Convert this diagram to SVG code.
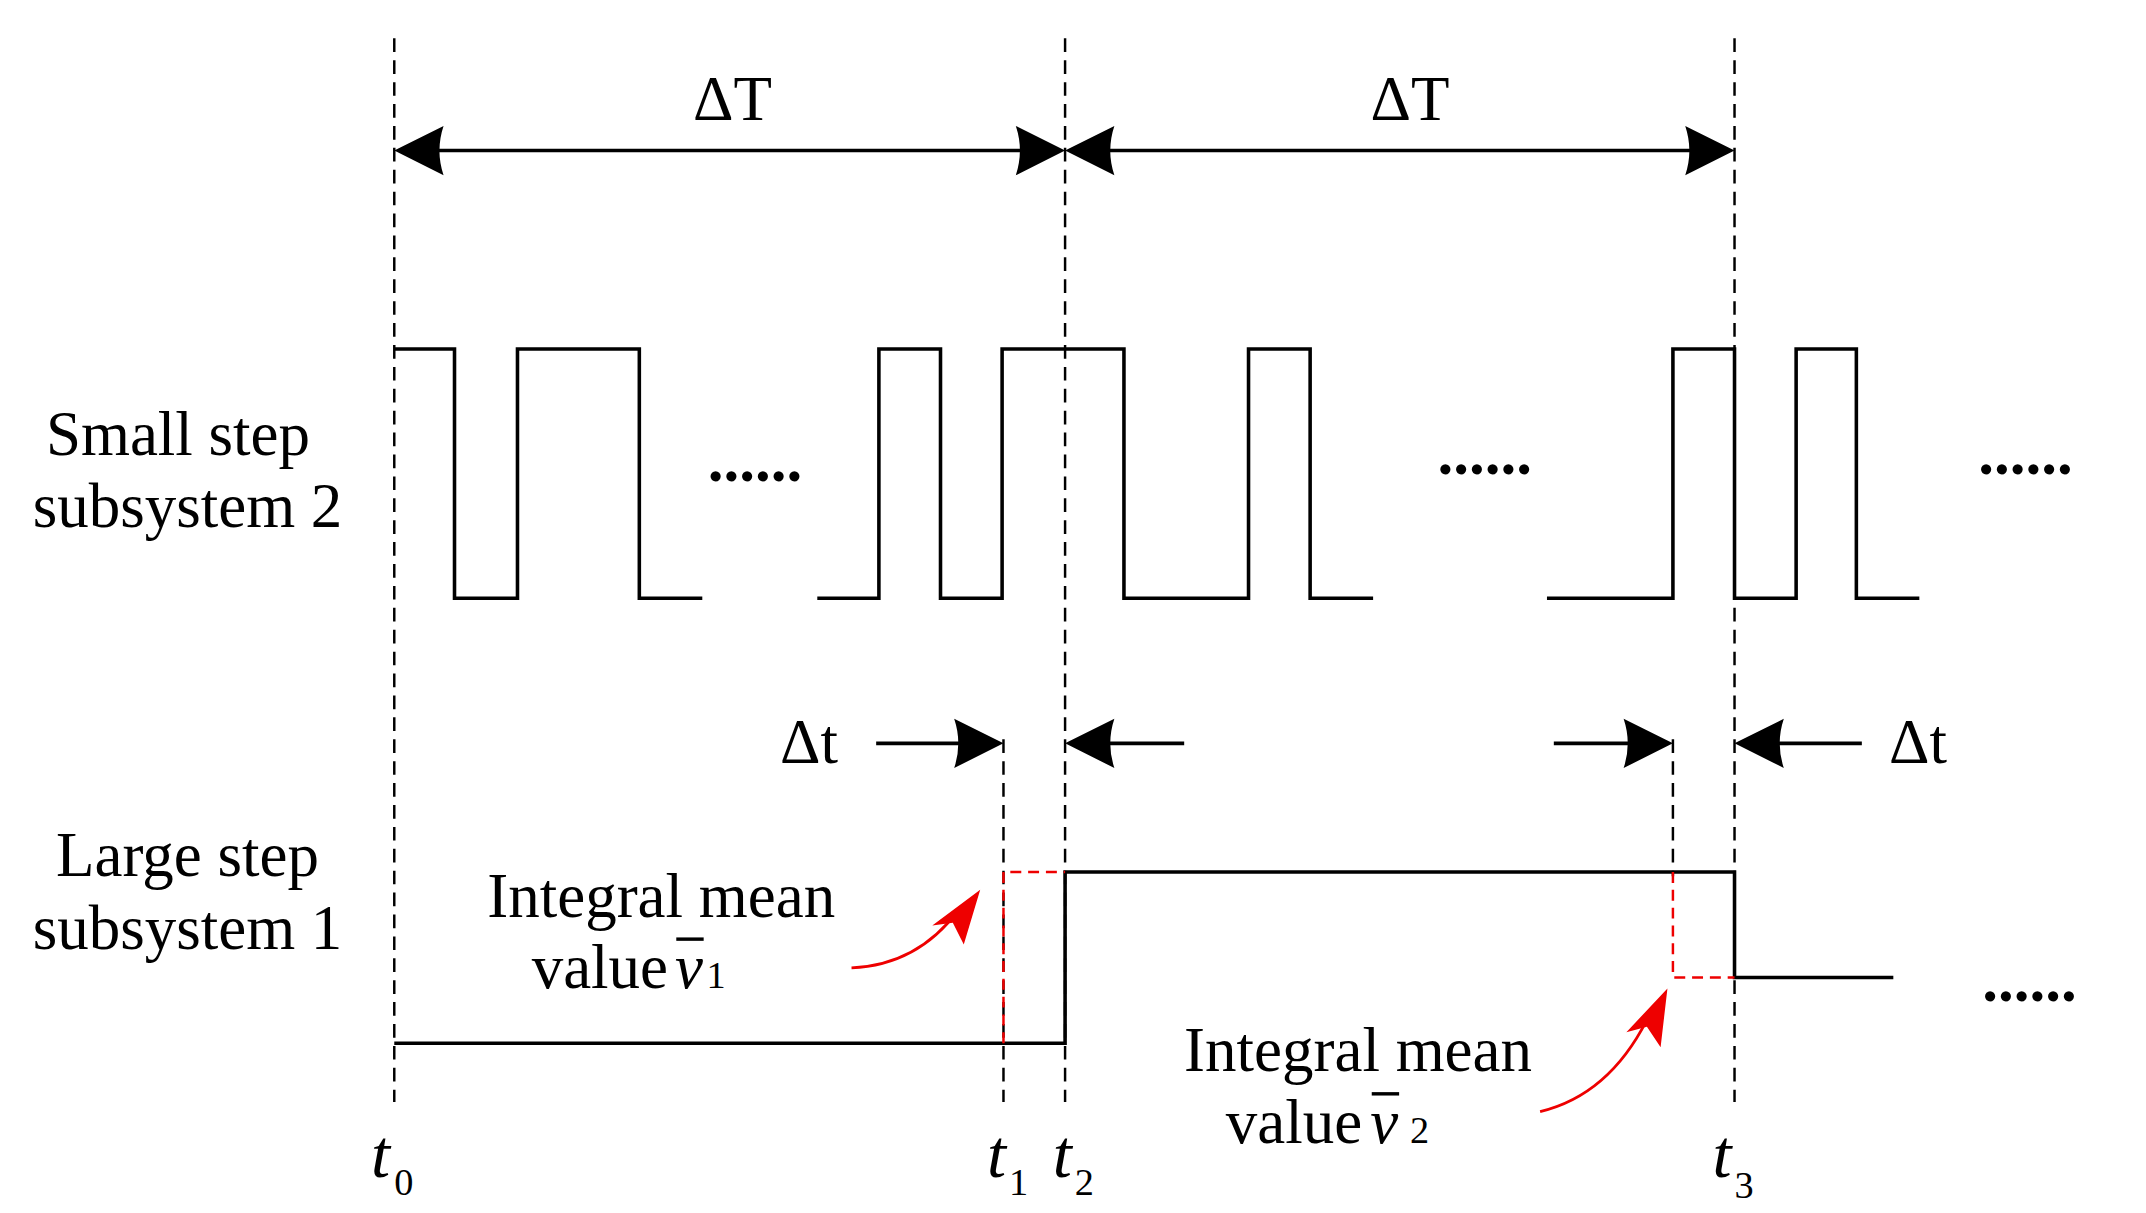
<svg xmlns="http://www.w3.org/2000/svg" width="2146" height="1213" viewBox="0 0 2146 1213">
<style>
.l{fill:none;stroke:#000;stroke-width:2.6}
.d{fill:none;stroke:#000;stroke-width:1.8;stroke-dasharray:10,6}
.r{fill:none;stroke:#e00;stroke-width:1.8;stroke-dasharray:8,5}
text{font-family:"Liberation Serif","Times New Roman","DejaVu Serif",serif;fill:#000}
.t{font-size:46px}
.i{font-style:italic;font-size:50px}
.s{font-size:28px}
.dots{font-size:46px;font-weight:bold}
</style>
<defs>
<path id="ah" d="M0,0 L-36,-18 Q-30,0 -36,18 Z"/>
</defs>
<rect width="2146" height="1213" fill="#fff"/>
<g transform="scale(1.369)">
<g id="guides">
<line class="d" x1="288" y1="28" x2="288" y2="805"/>
<line class="d" x1="733" y1="540" x2="733" y2="805"/>
<line class="d" x1="778" y1="28" x2="778" y2="805"/>
<line class="d" x1="1222" y1="540" x2="1222" y2="640"/>
<line class="d" x1="1267" y1="28" x2="1267" y2="805"/>
</g>
<g id="connectors">
<line class="l" x1="300" y1="110" x2="766" y2="110"/>
<use href="#ah" transform="translate(288,110) rotate(180)"/>
<use href="#ah" transform="translate(778,110)"/>
<line class="l" x1="790" y1="110" x2="1255" y2="110"/>
<use href="#ah" transform="translate(778,110) rotate(180)"/>
<use href="#ah" transform="translate(1267,110)"/>
<line class="l" x1="640" y1="543" x2="720" y2="543"/>
<use href="#ah" transform="translate(733,543)"/>
<line class="l" x1="790" y1="543" x2="865" y2="543"/>
<use href="#ah" transform="translate(778,543) rotate(180)"/>
<line class="l" x1="1135" y1="543" x2="1210" y2="543"/>
<use href="#ah" transform="translate(1222,543)"/>
<line class="l" x1="1280" y1="543" x2="1360" y2="543"/>
<use href="#ah" transform="translate(1267,543) rotate(180)"/>
<path d="M622,707 Q670,705 700,665" fill="none" stroke="#e00" stroke-width="2"/>
<path d="M716,650 L704,690 L696,674 L681,676 Z" fill="#e00"/>
<path d="M1125,812 Q1175,800 1203,745" fill="none" stroke="#e00" stroke-width="2"/>
<path d="M1218,722 L1213,765 L1203,750 L1188,754 Z" fill="#e00"/>
</g>
<g id="small-step">
<path class="l" d="M288,255 H332 V437 H378 V255 H467 V437 H513"/>
<path class="l" d="M597,437 H642 V255 H687 V437 H732 V255 H821 V437 H912 V255 H957 V437 H1003"/>
<path class="l" d="M1130,437 H1222 V255 H1267 V437 H1312 V255 H1356 V437 H1402"/>
<text class="dots" x="517" y="351">......</text>
<text class="dots" x="1050" y="346">......</text>
<text class="dots" x="1445" y="346">......</text>
</g>
<g id="large-step">
<path class="l" d="M288,762 H778 V637 H1267 V714 H1383"/>
<path class="r" d="M733,762 V637 H778"/>
<path class="r" d="M1222,637 V714 H1267"/>
<text class="dots" x="1448" y="731">......</text>
</g>
<g id="labels">
<text class="t" x="535" y="88" text-anchor="middle">ΔT</text>
<text class="t" x="1030" y="88" text-anchor="middle">ΔT</text>
<text class="t" x="591" y="557" text-anchor="middle">Δt</text>
<text class="t" x="1401" y="557" text-anchor="middle">Δt</text>
<text class="t" x="130" y="332" text-anchor="middle">Small step</text>
<text class="t" x="137" y="385" text-anchor="middle">subsystem 2</text>
<text class="t" x="137" y="640" text-anchor="middle">Large step</text>
<text class="t" x="137" y="693" text-anchor="middle">subsystem 1</text>
<text class="t" x="483" y="670" text-anchor="middle">Integral mean</text>
<text class="t" x="488" y="722" text-anchor="end">value</text>
<text class="t" x="493" y="722" font-style="italic">v</text>
<text class="s" x="516" y="722">1</text>
<line x1="494" y1="686" x2="514" y2="686" stroke="#000" stroke-width="2.5"/>
<text class="t" x="992" y="782" text-anchor="middle">Integral mean</text>
<text class="t" x="995" y="835" text-anchor="end">value</text>
<text class="t" x="1001" y="835" font-style="italic">v</text>
<text class="s" x="1030" y="835">2</text>
<line x1="1002" y1="799" x2="1022" y2="799" stroke="#000" stroke-width="2.5"/>
<text class="i" x="271" y="860">t</text><text class="s" x="288" y="873">0</text>
<text class="i" x="721" y="860">t</text><text class="s" x="737" y="873">1</text>
<text class="i" x="769" y="860">t</text><text class="s" x="785" y="873">2</text>
<text class="i" x="1251" y="860">t</text><text class="s" x="1267" y="875">3</text>
</g>
</g>
</svg>
